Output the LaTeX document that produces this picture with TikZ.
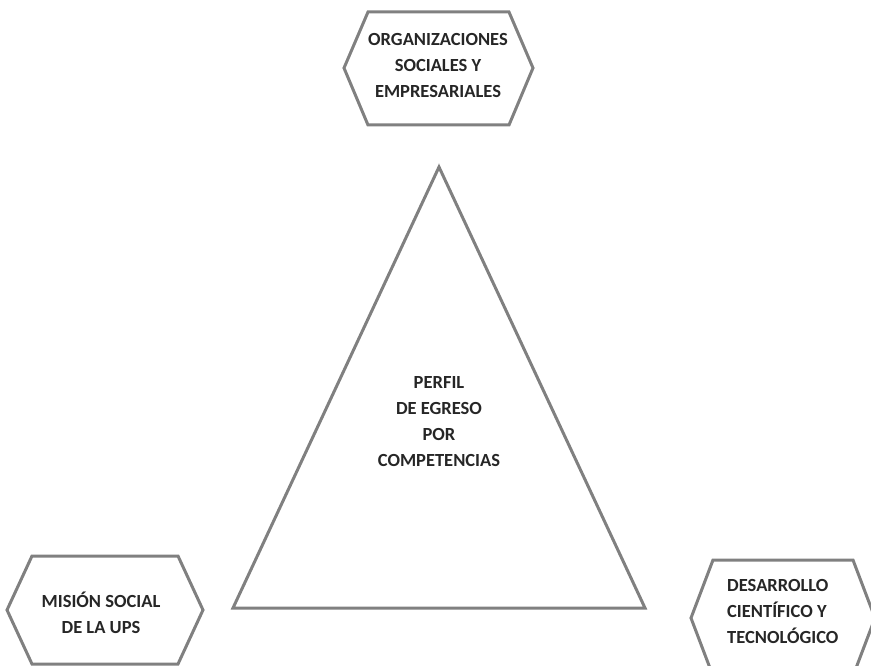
\documentclass[tikz,border=0pt]{standalone}
\usepackage{fontspec}
\setmainfont{Carlito}
\definecolor{framegray}{RGB}{128,128,128}

\begin{document}
\begin{tikzpicture}[x=1pt,y=-1pt,
    hexframe/.style={draw=framegray,line width=3pt,line join=miter},
    hextext/.style={font=\fontsize{18.5}{26}\selectfont\bfseries,text=black!85,inner sep=0pt}]
      \useasboundingbox (0,0) rectangle (871,666);
      \clip (0,0) rectangle (871,666);
      % hexagons
      \draw[hexframe] (344,68) -- (368,12) -- (509,12) -- (533,68) -- (509,125) -- (368,125) -- cycle;
      \draw[hexframe] (7,610) -- (32,556) -- (178,556) -- (203,610) -- (178,664) -- (32,664) -- cycle;
      \draw[hexframe] (691,618) -- (713,560) -- (853,560) -- (875,618) -- (853,676) -- (713,676) -- cycle;
      \node[hextext,align=center] (org) at (438,65) {ORGANIZACIONES\\SOCIALES Y\\EMPRESARIALES};
      \node[hextext,align=center] (mision) at (101,613) {MISIÓN SOCIAL\\DE LA UPS};
      \node[hextext,align=left,anchor=west] (desarrollo) at (727,611) {DESARROLLO\\CIENTÍFICO Y\\TECNOLÓGICO};
      % triangle
      \coordinate (apex) at (439,167);
      \coordinate (baseleft) at (233,608);
      \coordinate (baseright) at (645,608);
      \draw[hexframe] (apex) -- (baseleft) -- (baseright) -- cycle;
      \node[hextext,align=center] (perfil) at (439,422) {PERFIL\\DE EGRESO\\POR\\COMPETENCIAS};
    \end{tikzpicture}
\end{document}
